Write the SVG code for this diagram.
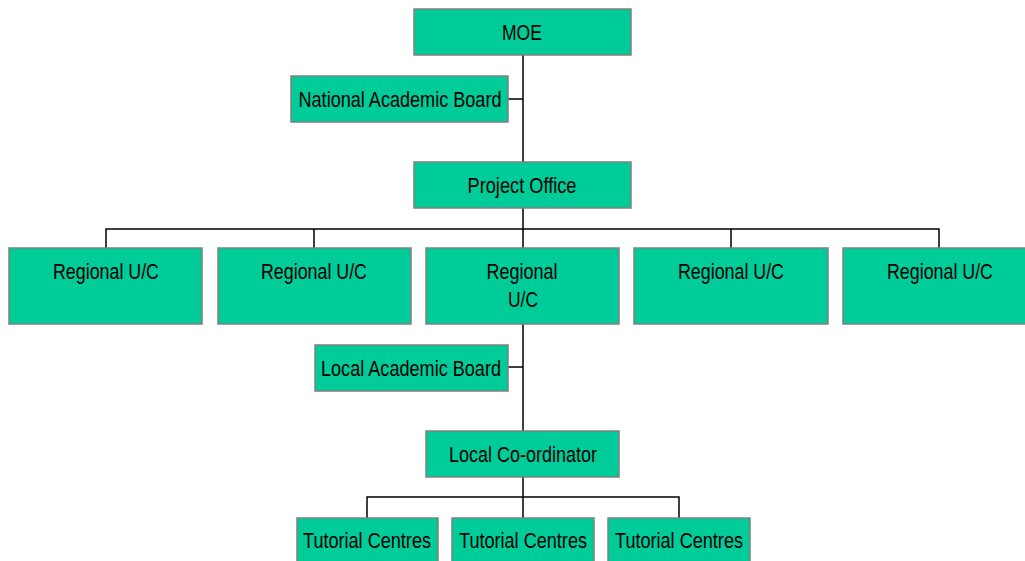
<svg xmlns="http://www.w3.org/2000/svg" width="1025" height="561" viewBox="0 0 1025 561">
<style>
.box{fill:#00CC99;stroke:#808080;stroke-width:1.5}
.lbl{font-family:"Liberation Sans",Arial,sans-serif;font-size:22.5px;fill:#000;text-anchor:middle}
.con{stroke:#000;stroke-width:1.5;fill:none}
</style>
<rect width="1025" height="561" fill="#fff"/>
<g id="connectors">
<path class="con" d="M523 55V162M508 99H523M523 208V229M106 248V229H939V248M314 229V248M523 229V248M731 229V248M523 324V431M508 367H523M523 477V497M367 518V497H679V518M523 497V518"/>
</g>
<g id="moe"><rect class="box" x="414" y="9" width="217" height="46"/><text class="lbl" x="522" y="40" textLength="40" lengthAdjust="spacingAndGlyphs">MOE</text></g>
<g id="nab"><rect class="box" x="291" y="76" width="217" height="46"/><text class="lbl" x="400" y="107" textLength="203" lengthAdjust="spacingAndGlyphs">National Academic Board</text></g>
<g id="po"><rect class="box" x="414" y="162" width="217" height="46"/><text class="lbl" x="522" y="193" textLength="109" lengthAdjust="spacingAndGlyphs">Project Office</text></g>
<g id="r1"><rect class="box" x="9" y="248" width="193" height="76"/><text class="lbl" x="106" y="279" textLength="106" lengthAdjust="spacingAndGlyphs">Regional U/C</text></g>
<g id="r2"><rect class="box" x="218" y="248" width="193" height="76"/><text class="lbl" x="314" y="279" textLength="106" lengthAdjust="spacingAndGlyphs">Regional U/C</text></g>
<g id="r3"><rect class="box" x="426" y="248" width="193" height="76"/><text class="lbl" x="522" y="279" textLength="71" lengthAdjust="spacingAndGlyphs">Regional</text><text class="lbl" x="523" y="307" textLength="30" lengthAdjust="spacingAndGlyphs">U/C</text></g>
<g id="r4"><rect class="box" x="634" y="248" width="194" height="76"/><text class="lbl" x="731" y="279" textLength="106" lengthAdjust="spacingAndGlyphs">Regional U/C</text></g>
<g id="r5"><rect class="box" x="843" y="248" width="194" height="76"/><text class="lbl" x="940" y="279" textLength="106" lengthAdjust="spacingAndGlyphs">Regional U/C</text></g>
<g id="lab"><rect class="box" x="315" y="345" width="193" height="46"/><text class="lbl" x="411" y="376" textLength="180" lengthAdjust="spacingAndGlyphs">Local Academic Board</text></g>
<g id="lc"><rect class="box" x="426" y="431" width="193" height="46"/><text class="lbl" x="523" y="462" textLength="148" lengthAdjust="spacingAndGlyphs">Local Co-ordinator</text></g>
<g id="t1"><rect class="box" x="297" y="518" width="141" height="48"/><text class="lbl" x="367" y="548" textLength="128" lengthAdjust="spacingAndGlyphs">Tutorial Centres</text></g>
<g id="t2"><rect class="box" x="452" y="518" width="142" height="48"/><text class="lbl" x="523" y="548" textLength="128" lengthAdjust="spacingAndGlyphs">Tutorial Centres</text></g>
<g id="t3"><rect class="box" x="608" y="518" width="142" height="48"/><text class="lbl" x="679" y="548" textLength="128" lengthAdjust="spacingAndGlyphs">Tutorial Centres</text></g>
</svg>
